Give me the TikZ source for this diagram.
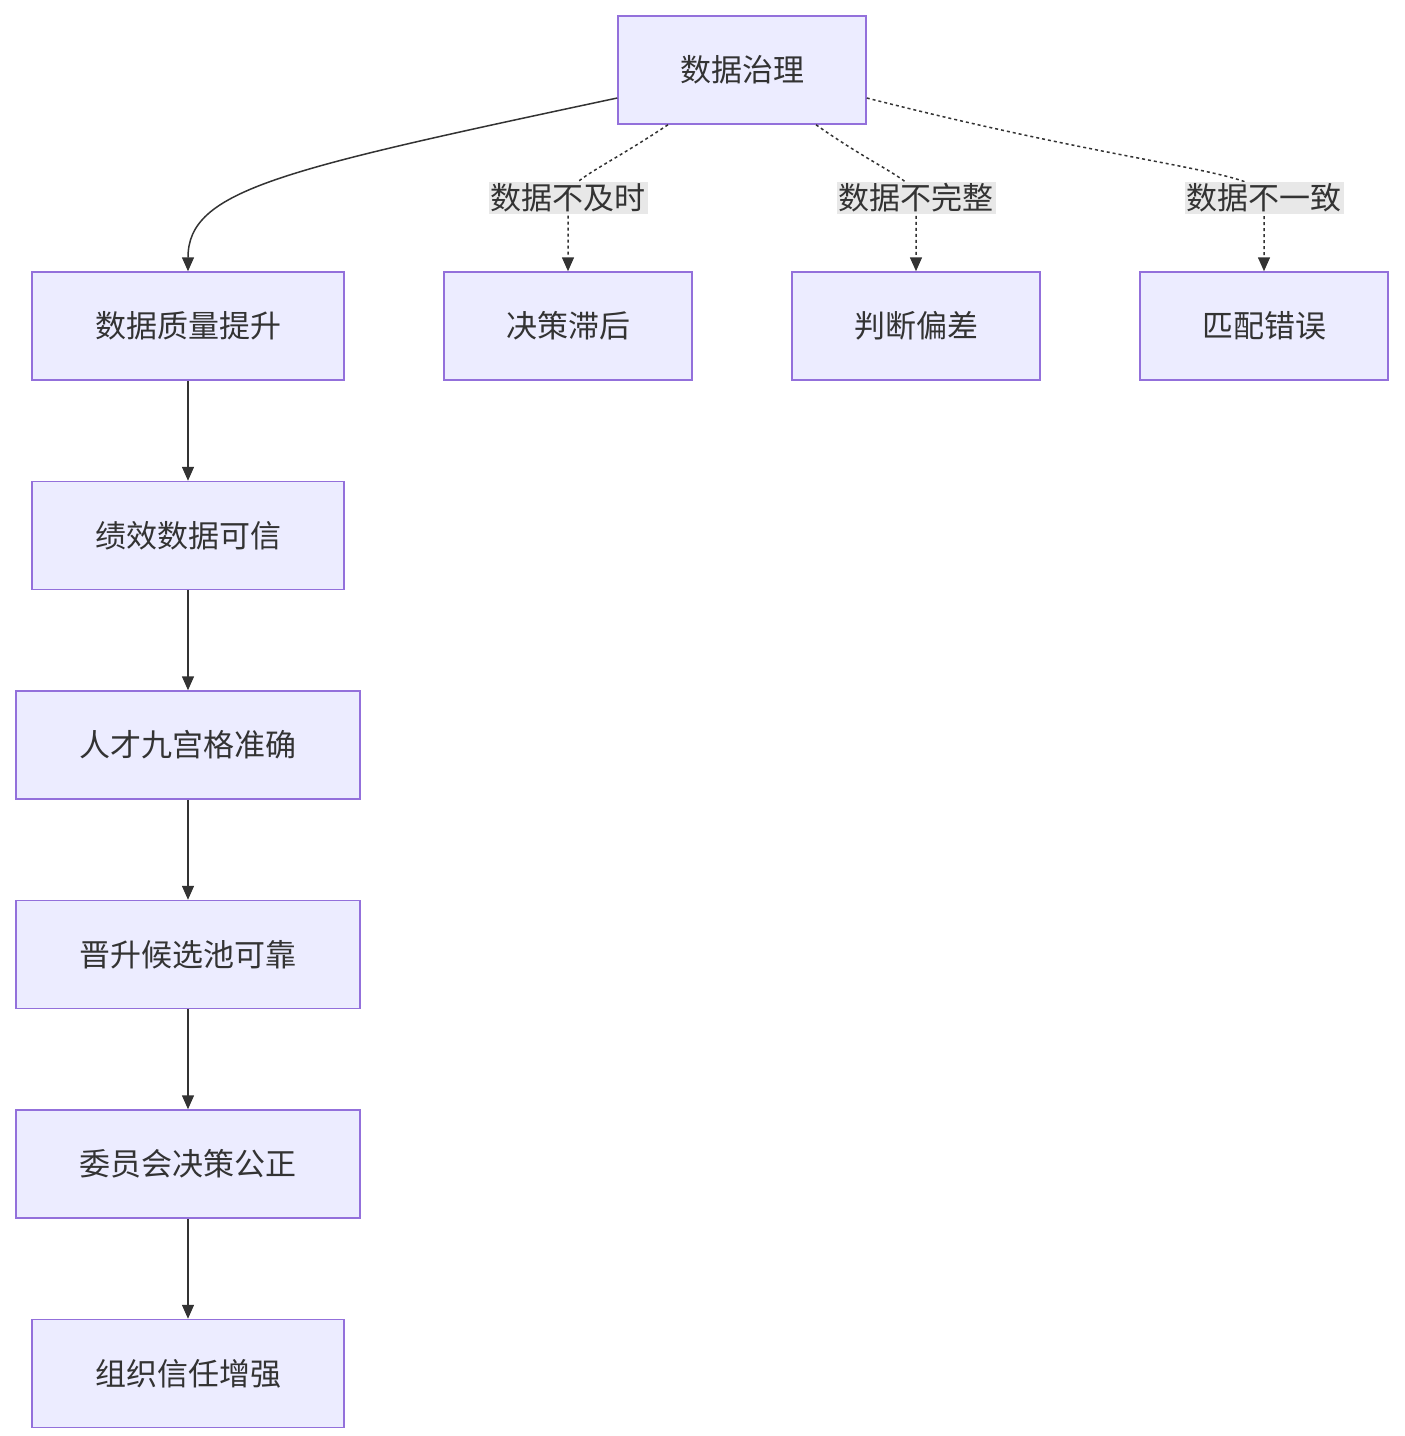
\documentclass[tikz,border=0pt]{standalone}
\usepackage{fontspec}
\newfontfamily\cjk{Noto Sans CJK SC}
\usetikzlibrary{arrows.meta, positioning}
\definecolor{boxfill}{HTML}{ECECFF}
\definecolor{boxline}{HTML}{9370DB}
\definecolor{edge}{HTML}{333333}
\definecolor{lblbg}{HTML}{E8E8E8}
\tikzset{
  box/.style={draw=boxline, fill=boxfill, line width=0.75pt, rectangle, minimum height=54pt, inner sep=0pt, font=\cjk\fontsize{15.5}{18}\selectfont, text=edge},
  lbl/.style={fill=lblbg, inner sep=1pt, font=\cjk\fontsize{15.5}{18}\selectfont, text=edge},
  flow/.style={draw=edge, line width=0.75pt, -{Triangle[length=7pt,width=6pt]}},
  weak/.style={flow, dash pattern=on 1.5pt off 1.5pt}
}
\begin{document}
\begin{tikzpicture}[x=0.5pt, y=-0.5pt]
\useasboundingbox (0,0) rectangle (1404,1436);

\node[box, minimum width=124pt] (gov) at (742,70) {数据治理};
\node[box, minimum width=156pt] (quality) at (188,326) {数据质量提升};
\node[box, minimum width=124pt] (delay) at (568,326) {决策滞后};
\node[box, minimum width=124pt] (bias) at (916,326) {判断偏差};
\node[box, minimum width=124pt] (mismatch) at (1264,326) {匹配错误};
\node[box, minimum width=156pt, below=50pt of quality] (perf) {绩效数据可信};
\node[box, minimum width=172pt, below=50pt of perf] (grid) {人才九宫格准确};
\node[box, minimum width=172pt, below=50pt of grid] (pool) {晋升候选池可靠};
\node[box, minimum width=172pt, below=50pt of pool] (committee) {委员会决策公正};
\node[box, minimum width=156pt, below=50pt of committee] (trust) {组织信任增强};

% solid chain
\draw[flow] ([yshift=-14pt] gov.west) .. controls (280,170) and (188,190) .. (quality.north);
\draw[flow] (quality) -- (perf);
\draw[flow] (perf) -- (grid);
\draw[flow] (grid) -- (pool);
\draw[flow] (pool) -- (committee);
\draw[flow] (committee) -- (trust);

% dashed branches
\coordinate (l1) at (568,198);
\coordinate (l2) at (916,198);
\coordinate (l3) at (1264,198);
\draw[weak] ([xshift=-37pt] gov.south) .. controls (600,170) and (568,180) .. (l1) -- (delay.north);
\draw[weak] ([xshift=37pt] gov.south) .. controls (880,170) and (916,180) .. (l2) -- (bias.north);
\draw[weak] ([yshift=-14pt] gov.east) .. controls (1150,170) and (1264,170) .. (l3) -- (mismatch.north);
\node[lbl] (t1) at (l1) {数据不及时};
\node[lbl] (t2) at (l2) {数据不完整};
\node[lbl] (t3) at (l3) {数据不一致};
\end{tikzpicture}
\end{document}
